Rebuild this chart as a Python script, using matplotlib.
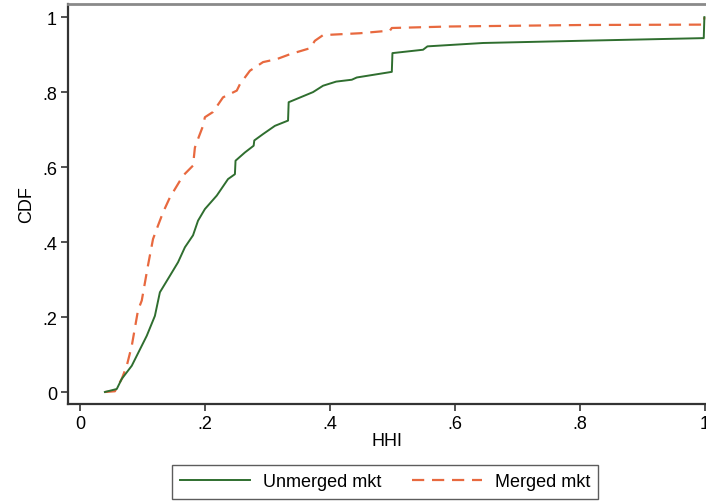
import matplotlib
matplotlib.use("Agg")
import matplotlib.pyplot as plt

# CDF of HHI
unmerged_hhi = [0.04, 0.059, 0.067, 0.083, 0.107, 0.120, 0.128, 0.144, 0.157, 0.168,
                0.181, 0.189, 0.200, 0.219, 0.237, 0.248, 0.249, 0.264, 0.278, 0.279,
                0.293, 0.312, 0.333, 0.334, 0.373, 0.389, 0.410, 0.435, 0.443, 0.499,
                0.500, 0.549, 0.556, 0.645, 0.805, 0.998, 0.999]
unmerged_cdf = [0.0, 0.008, 0.035, 0.07, 0.15, 0.203, 0.266, 0.31, 0.346, 0.386,
                0.418, 0.457, 0.488, 0.524, 0.568, 0.581, 0.617, 0.639, 0.657, 0.671,
                0.688, 0.71, 0.724, 0.773, 0.80, 0.817, 0.828, 0.833, 0.839, 0.854,
                0.904, 0.913, 0.922, 0.931, 0.937, 0.944, 1.0]

merged_hhi = [0.04, 0.056, 0.067, 0.075, 0.083, 0.093, 0.099, 0.109, 0.117, 0.125,
              0.133, 0.144, 0.165, 0.181, 0.184, 0.189, 0.197, 0.200, 0.213, 0.229,
              0.251, 0.256, 0.272, 0.293, 0.315, 0.336, 0.368, 0.376, 0.389, 0.448,
              0.496, 0.499, 0.592, 0.805, 0.998, 0.999]
merged_cdf = [0.0, 0.002, 0.035, 0.07, 0.123, 0.218, 0.244, 0.338, 0.408, 0.444,
              0.479, 0.519, 0.577, 0.604, 0.652, 0.675, 0.71, 0.733, 0.747, 0.786,
              0.804, 0.821, 0.857, 0.88, 0.888, 0.901, 0.917, 0.937, 0.952, 0.957,
              0.964, 0.971, 0.975, 0.979, 0.98, 1.0]

xticks = [0, 0.2, 0.4, 0.6, 0.8, 1]
xticklabels = ["0", ".2", ".4", ".6", ".8", "1"]
yticks = [0, 0.2, 0.4, 0.6, 0.8, 1]
yticklabels = ["0", ".2", ".4", ".6", ".8", "1"]

plt.rcParams['font.family'] = ['Liberation Sans', 'DejaVu Sans']

fig = plt.figure(figsize=(7.06, 5.02), dpi=100)
ax = fig.add_axes([68 / 706, 1 - 405 / 502, 1 - 68 / 706, 400 / 502])

green = "#2f6e2f"
orange = "#e8693f"
ax.plot(merged_hhi, merged_cdf, color=orange, lw=1.6, dashes=(5.5, 3.5), label="Merged mkt")
ax.plot(unmerged_hhi, unmerged_cdf, color=green, lw=1.4, label="Unmerged mkt")

ax.set_xlim(-0.019, 1.0016)
ax.set_ylim(-0.032, 1.035)
ax.set_xticks(xticks)
ax.set_xticklabels(xticklabels)
ax.set_yticks(yticks)
ax.set_yticklabels(yticklabels)
ax.tick_params(axis="both", direction="out", length=5, width=1.2, color="#333333",
               labelsize=13, pad=3)

for s in ["left", "bottom"]:
    ax.spines[s].set_color("#333333")
    ax.spines[s].set_linewidth(1.6)
ax.spines["top"].set_color("#8a8a8a")
ax.spines["top"].set_linewidth(2)
ax.spines["right"].set_visible(False)

ax.set_xlabel("HHI", fontsize=13, labelpad=0)
ax.set_ylabel("CDF", fontsize=13, labelpad=5)

h, l = ax.get_legend_handles_labels()
leg = fig.legend(h[::-1], l[::-1], loc="center", bbox_to_anchor=(385 / 706, 1 - 483 / 502),
                 ncol=2, frameon=True, fancybox=False, fontsize=13, handlelength=3.9,
                 columnspacing=1.7, borderpad=0.45, handletextpad=0.7)
leg.get_frame().set_edgecolor("#333333")
leg.get_frame().set_linewidth(1.0)

fig.savefig("out.png", dpi=100)
